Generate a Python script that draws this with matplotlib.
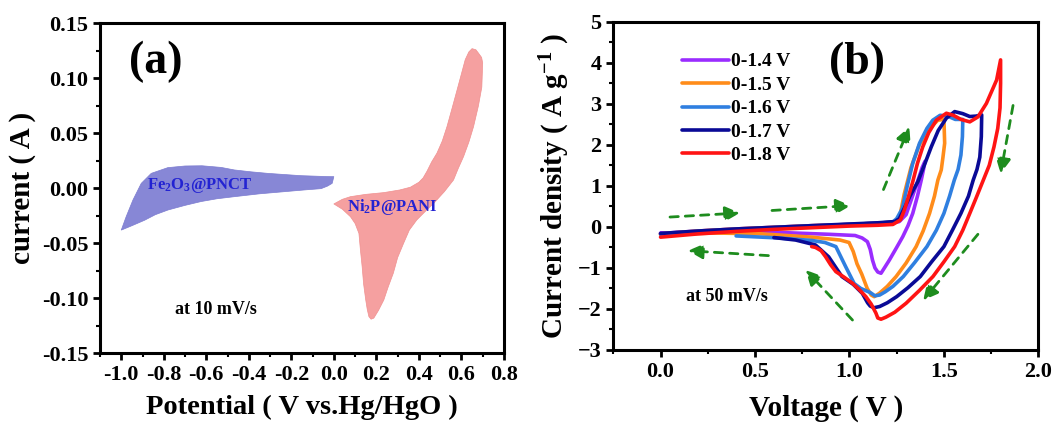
import matplotlib
matplotlib.use("Agg")
import matplotlib.pyplot as plt
from matplotlib.ticker import MultipleLocator

plt.rcParams['font.family'] = ['Liberation Serif', 'DejaVu Serif']
plt.rcParams['font.weight'] = 'bold'
plt.rcParams['axes.labelweight'] = 'bold'
plt.rcParams['mathtext.fontset'] = 'custom'
plt.rcParams['mathtext.rm'] = 'Liberation Serif:bold'
plt.rcParams['mathtext.it'] = 'Liberation Serif:bold'
plt.rcParams['mathtext.bf'] = 'Liberation Serif:bold'

# ---- panel (a): CV outlines at 10 mV/s ----
fe_v = [-1.0, -0.977, -0.945, -0.906, -0.859, -0.781, -0.70, -0.62, -0.53, -0.468, -0.39, -0.311, -0.23,
        -0.155, -0.08, -0.014, 0.0, -0.008, -0.03, -0.06, -0.14, -0.23, -0.35, -0.468, -0.55,
        -0.624, -0.70, -0.78, -0.84, -0.89, -0.95, -1.0]
fe_i = [-0.038, -0.0258, -0.0106, 0.0045, 0.0136, 0.0188, 0.0203, 0.0205, 0.019, 0.0167, 0.015, 0.0136, 0.0125,
        0.0115, 0.011, 0.0106, 0.0106, 0.0045, 0.002, -0.0003, -0.0015, -0.003, -0.005, -0.0076, -0.0095,
        -0.012, -0.0155, -0.0197, -0.024, -0.029, -0.034, -0.038]

ni_v = [0.0, 0.04, 0.078, 0.15, 0.235, 0.31, 0.36, 0.40, 0.42, 0.438, 0.46, 0.485, 0.51, 0.532, 0.555, 0.579,
        0.60, 0.618, 0.635, 0.65, 0.668, 0.68, 0.695, 0.70, 0.698, 0.696, 0.68, 0.657, 0.635, 0.61, 0.585,
        0.563, 0.52, 0.47, 0.43, 0.39, 0.355, 0.328, 0.30, 0.28, 0.255, 0.235, 0.21, 0.188, 0.175, 0.165,
        0.157, 0.15, 0.14, 0.133, 0.125, 0.118, 0.10, 0.078, 0.04, 0.0]
ni_i = [-0.0142, -0.010, -0.0076, -0.0055, -0.0039, -0.0015, 0.001, 0.0055, 0.0095, 0.0155, 0.024, 0.032, 0.043,
        0.056, 0.072, 0.089, 0.104, 0.117, 0.124, 0.127, 0.126, 0.123, 0.119, 0.114, 0.103, 0.092, 0.075,
        0.056, 0.042, 0.0288, 0.018, 0.0076, -0.003, -0.0136, -0.021, -0.0288, -0.038, -0.05, -0.063,
        -0.077, -0.09, -0.1015, -0.111, -0.118, -0.119, -0.1167, -0.110, -0.1015, -0.087, -0.071, -0.056,
        -0.041, -0.032, -0.0258, -0.019, -0.0142]

# ---- panel (b): CV curves at 50 mV/s, different windows ----
labels_b = ['0-1.4 V', '0-1.5 V', '0-1.6 V', '0-1.7 V', '0-1.8 V']
colors_b = ['#9a2cff', '#ff8c1a', '#2f7fe0', '#0a0a96', '#ff1414']

v14 = [0.0, 0.2, 0.4, 0.6, 0.8, 1.0, 1.15, 1.24, 1.264, 1.3, 1.33, 1.36, 1.385, 1.4, 1.392, 1.38,
       1.36, 1.335, 1.31, 1.282, 1.25, 1.211, 1.185, 1.167, 1.15, 1.135, 1.122, 1.11, 1.095, 1.067,
       1.03, 0.89, 0.537, 0.3, 0.0]
j14 = [-0.16, -0.1, -0.05, -0.01, 0.03, 0.06, 0.09, 0.11, 0.13, 0.3, 0.7, 1.1, 1.45, 1.6, 1.4, 1.14,
       0.75, 0.33, 0.03, -0.24, -0.5, -0.81, -1.0, -1.13, -1.1, -1.0, -0.81, -0.55, -0.36, -0.27,
       -0.21, -0.18, -0.12, -0.12, -0.15]

v15 = [0.0, 0.2, 0.4, 0.6, 0.8, 1.0, 1.15, 1.24, 1.264, 1.29, 1.326, 1.37, 1.424, 1.468, 1.5, 1.504,
       1.495, 1.486, 1.468, 1.45, 1.424, 1.39, 1.353, 1.3, 1.247, 1.2, 1.158, 1.131, 1.115, 1.094,
       1.065, 1.04, 1.02, 0.998, 0.95, 0.8, 0.537, 0.3, 0.0]
j15 = [-0.17, -0.1, -0.05, -0.01, 0.03, 0.06, 0.09, 0.12, 0.2, 0.8, 1.45, 2.0, 2.4, 2.6, 2.62, 2.04,
       1.7, 1.39, 1.14, 0.75, 0.33, -0.1, -0.48, -0.88, -1.21, -1.45, -1.62, -1.70, -1.66, -1.5,
       -1.15, -0.9, -0.6, -0.38, -0.32, -0.25, -0.17, -0.15, -0.18]

v16 = [0.0, 0.2, 0.4, 0.6, 0.8, 1.0, 1.15, 1.23, 1.25, 1.28, 1.307, 1.335, 1.371, 1.41, 1.441, 1.48,
       1.52, 1.56, 1.6, 1.598, 1.59, 1.575, 1.555, 1.53, 1.5, 1.46, 1.41, 1.345, 1.285, 1.23, 1.19,
       1.16, 1.135, 1.11, 1.06, 1.025, 0.98, 0.928, 0.87, 0.8, 0.626, 0.4]
j16 = [-0.18, -0.11, -0.06, -0.02, 0.02, 0.06, 0.09, 0.12, 0.2, 0.45, 1.02, 1.55, 2.04, 2.4, 2.6, 2.72,
       2.7, 2.62, 2.62, 2.2, 1.75, 1.4, 1.14, 0.75, 0.33, -0.08, -0.48, -0.87, -1.21, -1.45, -1.58,
       -1.66, -1.68, -1.6, -1.5, -1.38, -0.97, -0.48, -0.38, -0.33, -0.27, -0.22]

v17 = [0.0, 0.2, 0.4, 0.6, 0.8, 1.0, 1.15, 1.24, 1.264, 1.29, 1.32, 1.362, 1.4, 1.433, 1.47, 1.513,
       1.557, 1.6, 1.637, 1.67, 1.7, 1.698, 1.69, 1.675, 1.655, 1.63, 1.59, 1.545, 1.5, 1.435, 1.375,
       1.31, 1.25, 1.2, 1.16, 1.13, 1.11, 1.096, 1.068, 1.02, 0.96, 0.89, 0.82, 0.715, 0.6]
j17 = [-0.16, -0.1, -0.05, -0.01, 0.03, 0.07, 0.1, 0.13, 0.2, 0.45, 0.75, 1.1, 1.55, 1.95, 2.35, 2.65,
       2.81, 2.76, 2.69, 2.7, 2.73, 2.2, 1.7, 1.4, 1.14, 0.75, 0.33, -0.08, -0.48, -0.85, -1.21,
       -1.48, -1.70, -1.85, -1.94, -1.97, -1.93, -1.85, -1.62, -1.4, -1.21, -0.73, -0.44, -0.32, -0.26]

v18 = [0.0, 0.2, 0.4, 0.6, 0.8, 1.0, 1.15, 1.23, 1.27, 1.29, 1.31, 1.335, 1.36, 1.388, 1.42, 1.46,
       1.513, 1.55, 1.59, 1.637, 1.68, 1.725, 1.779, 1.8, 1.8, 1.797, 1.785, 1.765, 1.74, 1.705, 1.67,
       1.637, 1.6, 1.557, 1.5, 1.442, 1.37, 1.3, 1.24, 1.193, 1.167, 1.15, 1.14, 1.115, 1.087, 1.05,
       1.015, 0.97, 0.928, 0.9, 0.874, 0.85, 0.82, 0.80]
j18 = [-0.25, -0.17, -0.11, -0.06, -0.02, 0.02, 0.04, 0.06, 0.17, 0.4, 0.7, 1.1, 1.55, 1.95, 2.3, 2.6,
       2.77, 2.72, 2.62, 2.56, 2.68, 3.01, 3.58, 4.07, 3.5, 2.9, 2.4, 1.95, 1.5, 1.1, 0.7,
       0.33, -0.08, -0.48, -0.85, -1.21, -1.55, -1.86, -2.08, -2.2, -2.25, -2.22, -2.1, -1.88, -1.7, -1.52,
       -1.37, -1.22, -1.09, -0.92, -0.73, -0.58, -0.5, -0.48]

curves_v = [v14, v15, v16, v17, v18]
curves_j = [j14, j15, j16, j17, j18]

# scan direction arrows (start, end)
arrow_start = [(0.05, 0.24), (0.59, 0.40), (1.18, 0.91), (1.866, 2.96), (1.68, -0.18), (1.016, -2.27), (0.571, -0.70)]
arrow_end = [(0.42, 0.34), (1.007, 0.52), (1.317, 2.44), (1.80, 1.30), (1.39, -1.79), (0.768, -1.05), (0.145, -0.58)]

fig = plt.figure(figsize=(10.56, 4.23), dpi=100)
ax1 = fig.add_axes([0.0947, 0.1648, 0.3825, 0.780])
ax2 = fig.add_axes([0.5808, 0.1726, 0.4025, 0.776])

ax1.fill(fe_v, fe_i, color='#8787d6', lw=0.5, ec='#7c7cd0')
ax1.fill(ni_v, ni_i, color='#f5a0a0', lw=0.5, ec='#f09090')
ax1.set_xlim(-1.1, 0.8)
ax1.set_ylim(-0.15, 0.15)
ax1.xaxis.set_minor_locator(MultipleLocator(0.1))
ax1.yaxis.set_minor_locator(MultipleLocator(0.025))
ax1.set_xticks([-1.0, -0.8, -0.6, -0.4, -0.2, 0.0, 0.2, 0.4, 0.6, 0.8])
ax1.set_xticklabels(['-1.0', '-0.8', '-0.6', '-0.4', '-0.2', '0.0', '0.2', '0.4', '0.6', '0.8'])
ax1.set_yticks([-0.15, -0.10, -0.05, 0.0, 0.05, 0.10, 0.15])
ax1.set_yticklabels(['-0.15', '-0.10', '-0.05', '0.00', '0.05', '0.10', '0.15'])
ax1.set_xlabel('Potential ( V vs.Hg/HgO )', fontsize=20.5, labelpad=7)
ax1.set_ylabel('current ( A )', fontsize=21)
ax1.text(-0.84, 0.115, '(a)', fontsize=33, ha='center', va='center')
ax1.text(-0.632, 0.003, 'Fe$_2$O$_3$@PNCT', fontsize=12, color='#2323d2', ha='center', va='center')
ax1.text(0.276, -0.0167, 'Ni$_2$P@PANI', fontsize=12, color='#2323d2', ha='center', va='center')
ax1.text(-0.554, -0.1106, 'at 10 mV/s', fontsize=13, ha='center', va='center')

for v, j, c, lab in zip(curves_v, curves_j, colors_b, labels_b):
    ax2.plot(v, j, color=c, lw=2.6, label=lab, solid_joinstyle='round', solid_capstyle='round')
for s, e in zip(arrow_start, arrow_end):
    ax2.annotate('', xy=e, xytext=s,
                 arrowprops=dict(arrowstyle='-|>', color='#1e8c1e', lw=2, ls=(0, (3, 2.5)),
                                 mutation_scale=22, shrinkA=0, shrinkB=0))
ax2.set_xlim(-0.25, 2.0)
ax2.set_ylim(-3, 5)
ax2.xaxis.set_minor_locator(MultipleLocator(0.25))
ax2.yaxis.set_minor_locator(MultipleLocator(0.5))
ax2.set_xticks([0.0, 0.5, 1.0, 1.5, 2.0])
ax2.set_xticklabels(['0.0', '0.5', '1.0', '1.5', '2.0'])
ax2.set_yticks([-3, -2, -1, 0, 1, 2, 3, 4, 5])
ax2.set_xlabel('Voltage ( V )', fontsize=21, labelpad=9)
ax2.set_ylabel('Current density ( A g$^{-1}$ )', fontsize=21)
ax2.text(1.04, 4.0, '(b)', fontsize=33, ha='center', va='center')
ax2.text(0.35, -1.7, 'at 50 mV/s', fontsize=13, ha='center', va='center')
ax2.legend(loc='upper left', bbox_to_anchor=(0.143, 0.929), frameon=False, fontsize=14,
           handlelength=2.4, handletextpad=0.15, labelspacing=0.3, borderaxespad=0)

for ax in (ax1, ax2):
    for sp in ax.spines.values():
        sp.set_linewidth(2.2)
    ax.tick_params(which='major', direction='out', length=5, width=2, labelsize=16, top=False, right=False)
    ax.tick_params(which='minor', direction='out', length=3, width=1.5, top=False, right=False)
    for t in ax.get_xticklabels() + ax.get_yticklabels():
        t.set_fontweight('bold')

fig.savefig('out.png', dpi=100)
